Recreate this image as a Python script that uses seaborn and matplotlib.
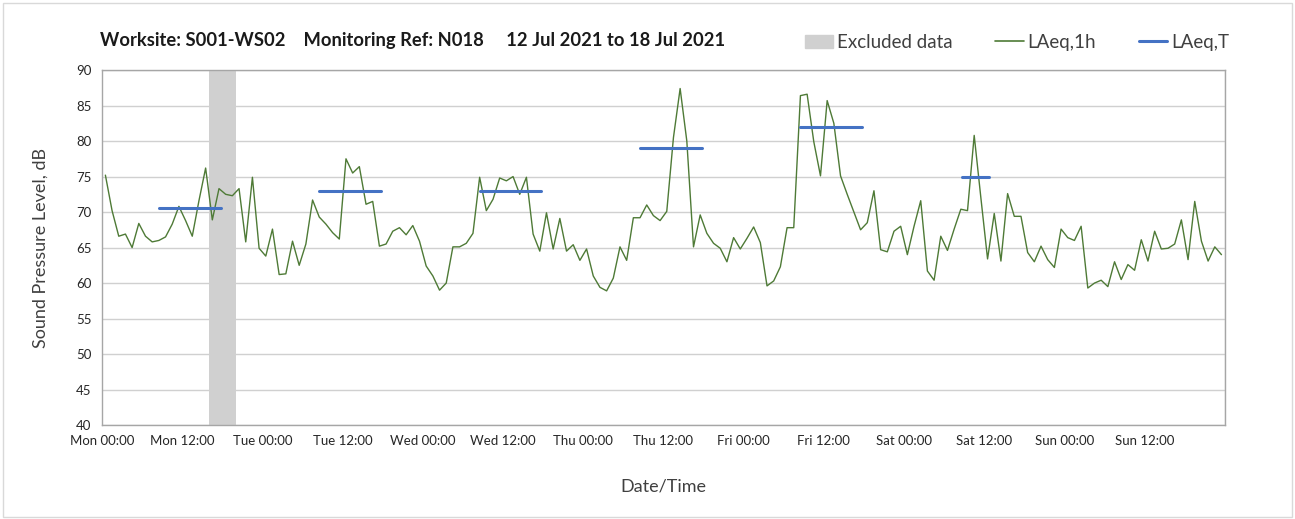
import numpy as np
import pandas as pd
import seaborn as sns
import matplotlib.pyplot as plt
import matplotlib.dates as mdates
from matplotlib.patches import Patch, Rectangle
from matplotlib.lines import Line2D

# hourly LAeq,1h values, Mon 12 Jul 00:00 onwards
laeq_1h = [
    75.2, 70.2, 66.6, 66.9, 65.0, 68.4, 66.6, 65.8, 66.0, 66.5, 68.3, 70.8,
    68.8, 66.6, 71.6, 76.2, 68.9, 73.3, 72.5, 72.3, 73.3, 65.8, 74.9, 64.9,
    63.8, 67.6, 61.2, 61.3, 65.9, 62.5, 65.5, 71.7, 69.3, 68.3, 67.1, 66.2,
    77.5, 75.5, 76.4, 71.1, 71.5, 65.2, 65.5, 67.3, 67.8, 66.8, 68.1, 65.9,
    62.4, 61.0, 59.0, 60.0, 65.1, 65.1, 65.6, 67.0, 74.9, 70.2, 71.8, 74.8,
    74.4, 75.0, 72.5, 74.9, 66.9, 64.5, 69.9, 64.8, 69.1, 64.5, 65.4, 63.2,
    64.8, 61.0, 59.4, 58.9, 60.7, 65.1, 63.2, 69.2, 69.2, 71.0, 69.5, 68.8,
    70.1, 80.5, 87.4, 80.0, 65.1, 69.6, 67.0, 65.6, 64.9, 63.0, 66.4, 64.8,
    66.3, 67.9, 65.7, 59.6, 60.3, 62.3, 67.8, 67.8, 86.4, 86.6, 79.9, 75.1,
    85.7, 82.5, 75.1, 72.5, 70.0, 67.5, 68.5, 73.0, 64.7, 64.4, 67.3, 68.0,
    64.0, 68.0, 71.6, 61.7, 60.4, 66.6, 64.6, 67.6, 70.4, 70.2, 80.8, 72.0,
    63.4, 69.8, 63.1, 72.6, 69.4, 69.4, 64.3, 63.0, 65.2, 63.3, 62.2, 67.6,
    66.4, 66.0, 68.0, 59.3, 60.0, 60.4, 59.5, 63.0, 60.5, 62.6, 61.8, 66.1,
    63.1, 67.3, 64.8, 64.9, 65.5, 68.9, 63.3, 71.5, 65.9, 63.1, 65.1, 64.0,
]
times = pd.date_range("2021-07-12 00:30", periods=len(laeq_1h), freq="h")

# LAeq,T daytime periods
period_start = ["2021-07-12 08:30", "2021-07-13 08:30", "2021-07-14 08:30",
                "2021-07-15 08:30", "2021-07-16 08:30", "2021-07-17 08:45"]
period_end = ["2021-07-12 17:45", "2021-07-13 17:45", "2021-07-14 17:45",
              "2021-07-15 17:45", "2021-07-16 17:45", "2021-07-17 12:45"]
laeq_t = [70.6, 72.9, 73.0, 79.0, 82.0, 75.0]

excluded = ("2021-07-12 16:00", "2021-07-12 20:00")

green = "#4E7A36"
blue = "#4472C4"
grey = "#D0D0D0"

df = pd.DataFrame({"time": times, "level": laeq_1h})
seg = pd.DataFrame({
    "time": pd.to_datetime(period_start + period_end),
    "level": laeq_t + laeq_t,
    "period": list(range(len(laeq_t))) * 2,
})

sns.set_style("white")
plt.rcParams["font.family"] = ["Lato", "DejaVu Sans"]

fig = plt.figure(figsize=(12.95, 5.19), dpi=100)
ax = fig.add_axes([0.0788, 0.181, 0.867, 0.684])

ax.axvspan(pd.Timestamp(excluded[0]), pd.Timestamp(excluded[1]),
           color=grey, lw=0, zorder=1)
sns.lineplot(data=df, x="time", y="level", color=green, lw=1.0, ax=ax, zorder=3)
sns.lineplot(data=seg, x="time", y="level", units="period", estimator=None,
             color=blue, lw=2.2, ax=ax, zorder=4)

ax.set_xlim(pd.Timestamp("2021-07-12"), pd.Timestamp("2021-07-19"))
ax.set_ylim(40, 90)
ax.set_yticks(np.arange(40, 91, 5))
ax.set_xticks(pd.date_range("2021-07-12", periods=14, freq="12h"))
ax.xaxis.set_major_formatter(mdates.DateFormatter("%a %H:%M"))
ax.xaxis.set_minor_locator(mdates.DayLocator())

ax.grid(axis="y", color="#D0D0D0", lw=1.0)
ax.grid(axis="x", which="minor", color="#DCDCDC", lw=1.0)
ax.set_axisbelow(True)
for s in ax.spines.values():
    s.set_color("#A6A6A6")
    s.set_linewidth(1.0)
ax.tick_params(axis="both", which="major", direction="out", length=4,
               color="#A6A6A6", labelsize=9.5, labelcolor="#262626")
ax.tick_params(axis="x", which="minor", length=0)

ax.set_xlabel("Date/Time", fontsize=13, color="#404040", labelpad=22)
ax.set_ylabel("Sound Pressure Level, dB", fontsize=13, color="#404040", labelpad=20)

fig.text(0.077, 0.922,
         "Worksite: S001-WS02    Monitoring Ref: N018     12 Jul 2021 to 18 Jul 2021",
         fontsize=13.2, fontweight="bold", color="#1a1a1a", va="center")

handles = [Patch(color=grey, label="Excluded data"),
           Line2D([], [], color=green, lw=1.2, label="LAeq,1h"),
           Line2D([], [], color=blue, lw=2.2, label="LAeq,T")]
fig.legend(handles=handles, loc="center right", bbox_to_anchor=(0.962, 0.918),
           ncol=3, frameon=False, fontsize=13.5, handlelength=1.5,
           columnspacing=2.3, handletextpad=0.2, labelcolor="#404040")

fig.add_artist(Rectangle((0.002, 0.004), 0.996, 0.99, transform=fig.transFigure,
                         fill=False, edgecolor="#D9D9D9", lw=1.0))

plt.savefig("out.png", dpi=100)
plt.close()
